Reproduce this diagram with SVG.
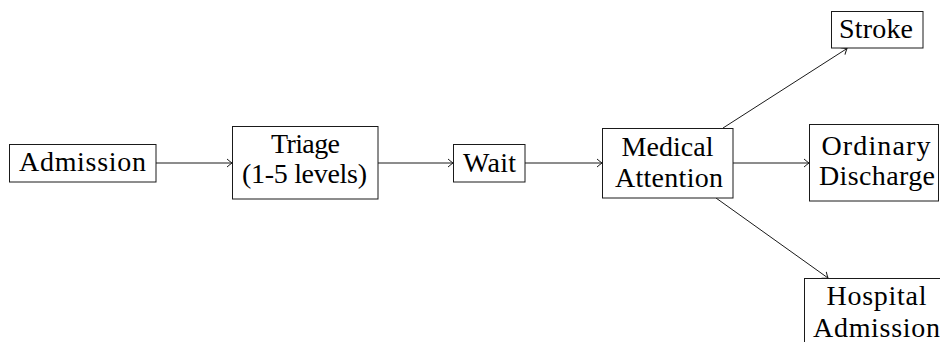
<svg xmlns="http://www.w3.org/2000/svg" width="940" height="342" viewBox="0 0 940 342">
  <style>
    .box { fill: #ffffff; stroke: #1a1a1a; stroke-width: 1; }
    .lbl { font-family: "Liberation Serif", "DejaVu Serif", serif; font-size: 28px; fill: #000000; text-anchor: middle; }
    .edge { stroke: #1a1a1a; stroke-width: 1; fill: none; marker-end: url(#arr); }
  </style>
  <defs>
    <marker id="arr" markerUnits="userSpaceOnUse" markerWidth="12" markerHeight="12" refX="0" refY="0" viewBox="-7 -6 8 12" orient="auto">
      <path d="M -5 -4 Q -1.5 -1 0 0 Q -1.5 1 -5 4" fill="none" stroke="#1a1a1a" stroke-width="1"/>
    </marker>
  </defs>
  <rect width="940" height="342" fill="#ffffff"/>
  <g id="connectors">
    <line class="edge" x1="156" y1="163" x2="232" y2="163"/>
    <line class="edge" x1="378" y1="163" x2="453" y2="163"/>
    <line class="edge" x1="525" y1="163" x2="602" y2="163"/>
    <line class="edge" x1="733" y1="163" x2="809" y2="163"/>
    <line class="edge" x1="723" y1="128" x2="847" y2="48.5"/>
    <line class="edge" x1="716" y1="198" x2="828" y2="278"/>
  </g>
  <g id="admission">
    <rect class="box" x="9.5" y="144.5" width="146.5" height="37.5"/>
    <text class="lbl" x="82.5" y="171" textLength="127">Admission</text>
  </g>
  <g id="triage">
    <rect class="box" x="232.5" y="126.5" width="145.5" height="72.5"/>
    <text class="lbl" x="305.5" y="153" textLength="69">Triage</text>
    <text class="lbl" x="304.5" y="183" textLength="125">(1-5 levels)</text>
  </g>
  <g id="wait">
    <rect class="box" x="453.5" y="144.5" width="71.5" height="37.5"/>
    <text class="lbl" x="489.5" y="171.5" textLength="53">Wait</text>
  </g>
  <g id="medical">
    <rect class="box" x="602.5" y="128.5" width="130.5" height="69.5"/>
    <text class="lbl" x="667.5" y="156" textLength="92">Medical</text>
    <text class="lbl" x="669" y="187" textLength="108">Attention</text>
  </g>
  <g id="stroke">
    <rect class="box" x="831.5" y="11.5" width="91.5" height="36.5"/>
    <text class="lbl" x="876" y="38" textLength="74">Stroke</text>
  </g>
  <g id="ordinary-discharge">
    <rect class="box" x="809.5" y="124.5" width="129" height="76.5"/>
    <text class="lbl" x="876" y="154.5" textLength="109">Ordinary</text>
    <text class="lbl" x="877" y="184.5" textLength="116">Discharge</text>
  </g>
  <g id="hospital-admission">
    <rect class="box" x="804.5" y="278.5" width="150" height="80"/>
    <text class="lbl" x="876.5" y="305" textLength="100">Hospital</text>
    <text class="lbl" x="876.5" y="336.5" textLength="127">Admission</text>
  </g>
</svg>
